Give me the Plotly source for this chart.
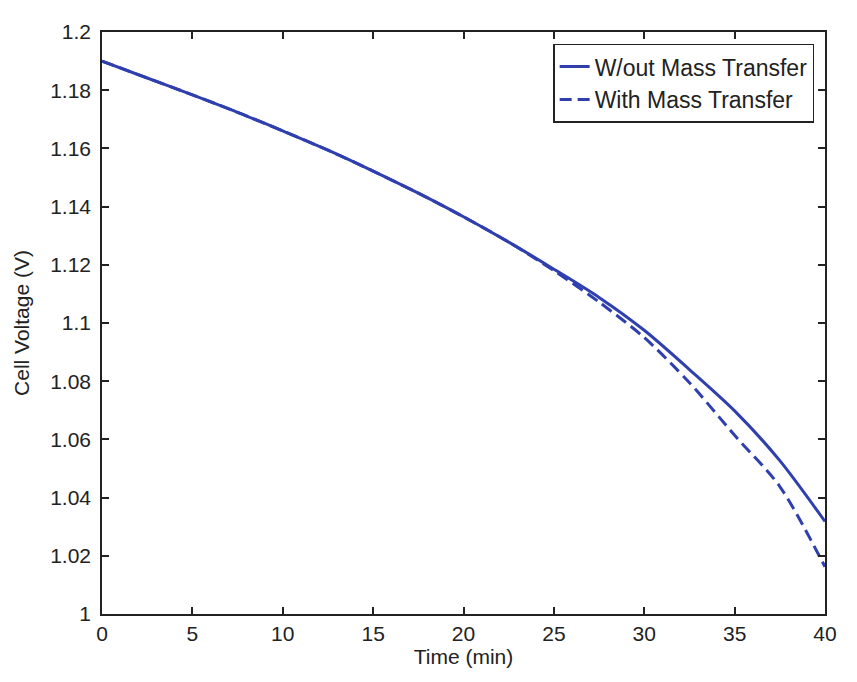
import plotly.graph_objects as go

time_min = [0, 2.5, 5, 7.5, 10, 12.5, 15, 17.5, 20, 22.5, 25, 27.5, 30, 32.5, 35, 37.5, 40]
v_without = [1.1900, 1.1842, 1.1784, 1.1724, 1.1660, 1.1594, 1.1522, 1.1446, 1.1365,
             1.1278, 1.1185, 1.1088, 1.0975, 1.0840, 1.0698, 1.0527, 1.0318]
v_with = [1.1900, 1.1842, 1.1784, 1.1724, 1.1660, 1.1594, 1.1522, 1.1446, 1.1365,
          1.1278, 1.1180, 1.1072, 1.0950, 1.0795, 1.0614, 1.0438, 1.0162]

x_ticks = [0, 5, 10, 15, 20, 25, 30, 35, 40]
y_ticks = [1.0, 1.02, 1.04, 1.06, 1.08, 1.1, 1.12, 1.14, 1.16, 1.18, 1.2]
y_tick_text = ["1", "1.02", "1.04", "1.06", "1.08", "1.1", "1.12", "1.14", "1.16", "1.18", "1.2"]

blue = "#2f3fae"
font_family = "Liberation Sans, Arial, sans-serif"

fig = go.Figure()
fig.add_trace(go.Scatter(x=time_min, y=v_without, mode="lines", name="W/out Mass Transfer",
                         line=dict(color=blue, width=3, shape="spline", smoothing=0.8), legendgroup="a"))
fig.add_trace(go.Scatter(x=time_min, y=v_with, mode="lines", name="With Mass Transfer",
                         line=dict(color=blue, width=3, dash="12px,6px", shape="spline", smoothing=0.8),
                         legendgroup="b"))

axis_common = dict(showgrid=False, zeroline=False, showline=True, linecolor="#222", linewidth=1.5,
                   mirror="allticks", ticks="inside", ticklen=7, tickcolor="#222", tickwidth=1.5,
                   tickfont=dict(size=21, color="#222"))

fig.update_layout(
    width=841, height=666,
    margin=dict(l=92, r=12, t=16, b=54),
    paper_bgcolor="white", plot_bgcolor="white",
    font=dict(family=font_family, color="#222"),
    xaxis=dict(range=[0, 40], tickvals=x_ticks, title=dict(text="Time (min)", font=dict(size=21), standoff=2),
               **axis_common),
    yaxis=dict(range=[1.0, 1.2], tickvals=y_ticks, ticktext=y_tick_text, ticklabelstandoff=5,
               title=dict(text="Cell Voltage (V)", font=dict(size=21), standoff=15), **axis_common),
    legend=dict(x=0.985, y=0.98, xanchor="right", yanchor="top", bgcolor="white",
                bordercolor="#222", borderwidth=1.5, font=dict(size=23), tracegroupgap=0),
    showlegend=True,
)

fig.write_html("out.html")
